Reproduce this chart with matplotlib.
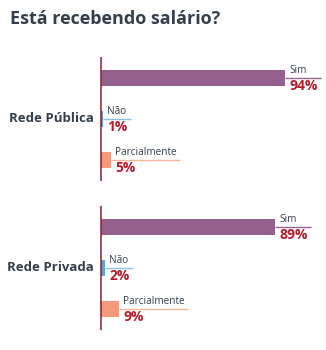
import matplotlib
matplotlib.use('Agg')
import matplotlib.pyplot as plt

plt.rcParams['font.family'] = ['Open Sans', 'DejaVu Sans']

title = 'Está recebendo salário?'
groups = ['Rede Pública', 'Rede Privada']
answers = ['Sim', 'Não', 'Parcialmente']
values = {
    'Rede Pública': [94, 1, 5],
    'Rede Privada': [89, 2, 9],
}

bar_colors = ['#94618f', '#5ba8cf', '#f29a7a']
line_colors = ['#94618f', '#8cc3df', '#f5b49b']
pct_color = '#b31b2c'
text_color = '#353f4b'
axis_color = '#8e1b2c'

W, H = 326, 350
fig = plt.figure(figsize=(W / 100, H / 100), dpi=100)
ax = fig.add_axes([0, 0, 1, 1])
x0 = 101        # pixel where 0% sits
scale = 1.955   # pixels per percent
ax.set_xlim(-x0 / scale, (W - x0) / scale)
ax.set_ylim(H, 0)
ax.axis('off')

fig.text(10 / W, 1 - 24 / H, title, fontsize=13, fontweight='bold',
         color=text_color, va='baseline', ha='left')

renderer = fig.canvas.get_renderer()
inv = ax.transData.inverted()

group_top = [57, 206]
bar_h = 16
step = 41
for g, top in zip(groups, group_top):
    ys = [top + 20.5 + i * step for i in range(len(answers))]
    ax.vlines(0, top, top + 124, color=axis_color, lw=1.1, zorder=3)
    ax.barh(ys, values[g], height=bar_h, color=bar_colors, zorder=2)
    ax.text(-7 / scale, ys[1], g, fontsize=9.5, fontweight='bold',
            color=text_color, ha='right', va='center')
    for i, (y, v) in enumerate(zip(ys, values[g])):
        tx = v + 4.5 / scale
        t1 = ax.text(tx, y - 1.5, answers[i], fontsize=7.2, color=text_color,
                     ha='left', va='bottom')
        t2 = ax.text(tx, y + 1.5, f'{v}%', fontsize=10, fontweight='bold',
                     color=pct_color, ha='left', va='top')
        right = max(t1.get_window_extent(renderer).x1,
                    t2.get_window_extent(renderer).x1) + 3
        xr = inv.transform((right, 0))[0]
        ax.hlines(y, v, xr, color=line_colors[i], lw=1, zorder=3)

fig.savefig('out.png', dpi=100)
